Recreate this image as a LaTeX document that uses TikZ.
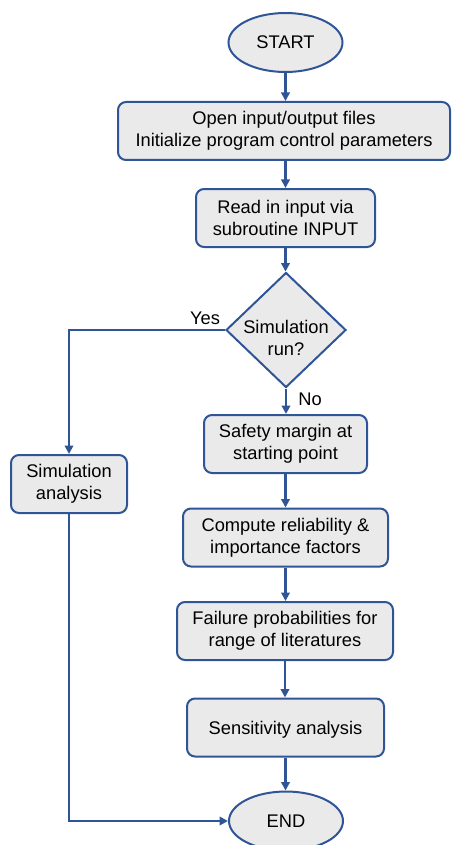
\documentclass[tikz,border=0pt]{standalone}
\usepackage{fontspec}
\setmainfont{Liberation Sans}
\usetikzlibrary{shapes.geometric,arrows.meta}
\definecolor{lineblue}{RGB}{47,85,151}
\definecolor{boxfill}{RGB}{234,234,234}
\begin{document}
\begin{tikzpicture}[x=1pt,y=-1pt,
  font=\fontsize{18.3}{22}\selectfont,
  every node/.style={inner sep=0pt, align=center},
  box/.style={draw=lineblue, line width=2pt, fill=boxfill, rounded corners=8pt, minimum height=58pt, execute at begin node={\rule{0pt}{17.5pt}}},
  term/.style={draw=lineblue, line width=2pt, fill=boxfill, ellipse, minimum width=114pt, minimum height=59pt},
  decision/.style={draw=lineblue, line width=2pt, fill=boxfill, diamond, minimum width=120pt, minimum height=115pt},
  conn/.style={draw=lineblue, line width=2.3pt, -{Triangle[length=8.5pt,width=8.5pt]}}]
\useasboundingbox (0,0) rectangle (451,845);
\node[term] (start) at (285.5,42.5) {START};
\node[box, minimum width=332pt] (init) at (284,131) {Open input/output files\\Initialize program control parameters};
\node[box, minimum width=179pt] (read) at (285.5,218) {Read in input via\\subroutine INPUT};
\node[decision] (dec) at (286,330) {};
\node (dectext) at (286,338) {Simulation\\run?};
\node[box, minimum width=116pt] (sim) at (69,484) {Simulation\\analysis};
\node[box, minimum width=163pt] (safe) at (285.5,444) {Safety margin at\\starting point};
\node[box, minimum width=205pt] (comp) at (285.5,537.5) {Compute reliability \&\\importance factors};
\node[box, minimum width=216pt] (fail) at (285,631) {Failure probabilities for\\range of literatures};
\node[box, minimum width=197pt] (sens) at (285.5,727.5) {Sensitivity analysis};
\node[term] (end) at (286,821) {END};
\node (yes) at (205,318) {Yes};
\node (no) at (310,399) {No};
\draw[conn] (start.south) -- (start.south |- init.north);
\draw[conn] (read.north |- init.south) -- (read.north);
\draw[conn] (read.south) -- (read.south |- dec.north);
\draw[conn] (dec.south) -- (dec.south |- safe.north);
\draw[conn] (safe.south) -- (safe.south |- comp.north);
\draw[conn] (comp.south) -- (comp.south |- fail.north);
\draw[conn] (fail.south) -- (fail.south |- sens.north);
\draw[conn] (sens.south) -- (sens.south |- end.north);
\draw[conn] (dec.west) -| (sim.north);
\draw[conn] (sim.south) |- (end.west);
\end{tikzpicture}
\end{document}
